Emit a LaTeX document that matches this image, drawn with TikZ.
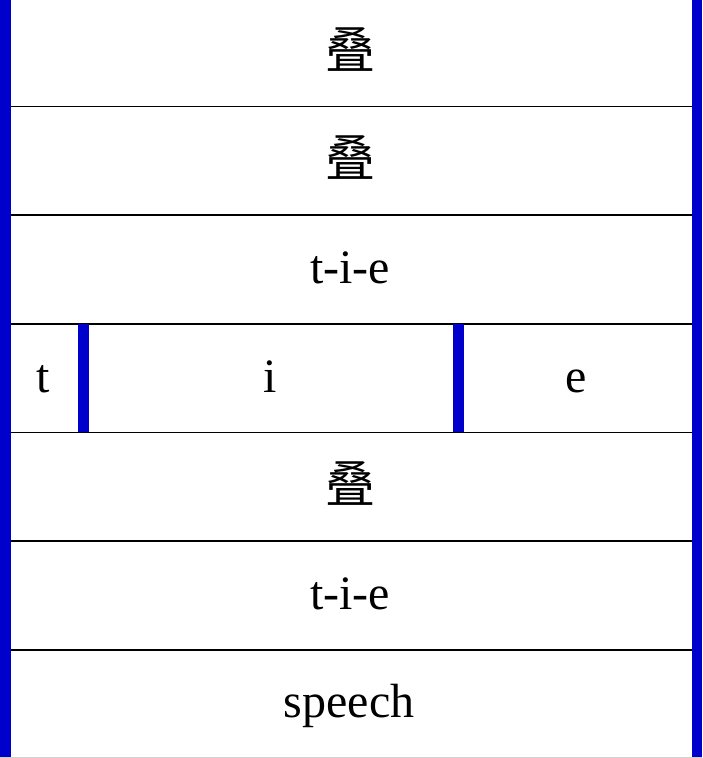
\documentclass[tikz,border=0pt]{standalone}
\usepackage{fontspec}
\setmainfont{Liberation Serif}
\newfontfamily\cjk{Noto Sans CJK SC}
\definecolor{barblue}{RGB}{0,0,204}
\begin{document}
\begin{tikzpicture}[x=1pt,y=1pt,
  lbl/.style={font=\fontsize{48}{48}\selectfont, anchor=base, inner sep=0pt},
  cjklbl/.style={font=\cjk\fontsize{50}{50}\selectfont, anchor=base, inner sep=0pt},
  sepline/.style={draw=black, line width=1.5pt},
  bar/.style={fill=barblue, draw=none}]
\useasboundingbox (0,0) rectangle (702,758);
\fill[white] (0,0) rectangle (702,758);
% row separators
\foreach \yy in {651.5,543,434,325.5,217,108} {
  \draw[sepline] (0,\yy) -- (702,\yy);
}
\draw[gray!35, line width=1pt] (0,0.5) -- (702,0.5);
% outer bars
\fill[bar] (0,1) rectangle (11,758);
\fill[bar] (692,1) rectangle (702,758);
% inner bars of row 4
\fill[bar] (78,325.5) rectangle (89,434);
\fill[bar] (453,325.5) rectangle (464,434);
% labels
\node[cjklbl] (r1) at (350,689) {叠};
\node[cjklbl] (r2) at (350,581.5) {叠};
\node[lbl] (r3) at (350,474.5) {t-i-e};
\node[lbl] (r4a) at (43,365.8) {t};
\node[lbl] (r4b) at (270,365.8) {i};
\node[lbl] (r4c) at (576,365.8) {e};
\node[cjklbl] (r5) at (350,255.8) {叠};
\node[lbl] (r6) at (350,148.5) {t-i-e};
\node[lbl] (r7) at (349,40) {speech};
\end{tikzpicture}
\end{document}
